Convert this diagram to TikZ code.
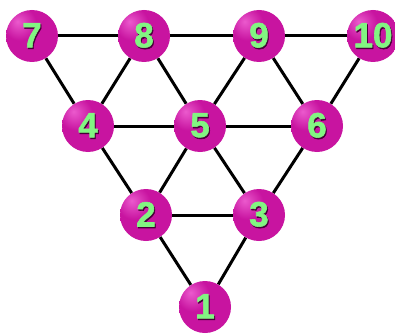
\documentclass[tikz,border=0pt]{standalone}
\usepackage{fontspec}
\setmainfont{Liberation Sans}
\newfontfamily\digitfont{Liberation Sans}[BoldFeatures={FakeBold=1.6}]
\usetikzlibrary{backgrounds}

\definecolor{balllight}{RGB}{235,90,205}
\definecolor{ballmid}{RGB}{200,20,160}
\definecolor{balldark}{RGB}{135,0,105}
\definecolor{digitgreen}{RGB}{130,245,130}
\definecolor{digitshadow}{RGB}{70,0,55}

\pgfdeclareradialshading{ballshade}{\pgfpoint{-14bp}{14bp}}{%
  color(0bp)=(balllight); color(16bp)=(ballmid); color(42bp)=(ballmid);
  color(60bp)=(balldark); color(100bp)=(balldark)}

\newcommand{\ballnum}[1]{%
  \makebox[0pt]{\raisebox{-1.5pt}{\hspace{2pt}\textcolor{digitshadow}{#1}}}%
  \makebox[0pt]{\textcolor{digitgreen}{#1}}}

\tikzset{
  ball/.style={circle, minimum size=52pt, inner sep=0pt, shading=ballshade,
    font=\digitfont\fontsize{35}{35}\selectfont\bfseries},
  link/.style={line width=3pt, black}
}

\begin{document}
\begin{tikzpicture}[x=1pt, y=-1pt]
		\useasboundingbox (0,0) rectangle (395,334);
		\clip (0,0) rectangle (395,334);
		\foreach \x/\y/\l in {32/36/7, 144/36/8, 259/36/9, 373/36/10, 88/126/4, 200/126/5, 317/126/6, 146/215/2, 259/215/3, 205/307/1} {
				\node[ball] (n\l) at (\x, \y) {\ballnum{\l}};
			}
		\begin{scope}[on background layer]
			\draw[link] (n7) -- (n8) -- (n9) -- (n10);
			\draw[link] (n4) -- (n5) -- (n6);
			\draw[link] (n2) -- (n3);
			\draw[link] (n7) -- (n4) -- (n2) -- (n1);
			\draw[link] (n8) -- (n5) -- (n3);
			\draw[link] (n9) -- (n6);
			\draw[link] (n8) -- (n4);
			\draw[link] (n9) -- (n5) -- (n2);
			\draw[link] (n10) -- (n6) -- (n3) -- (n1);
		\end{scope}
	\end{tikzpicture}
\end{document}
